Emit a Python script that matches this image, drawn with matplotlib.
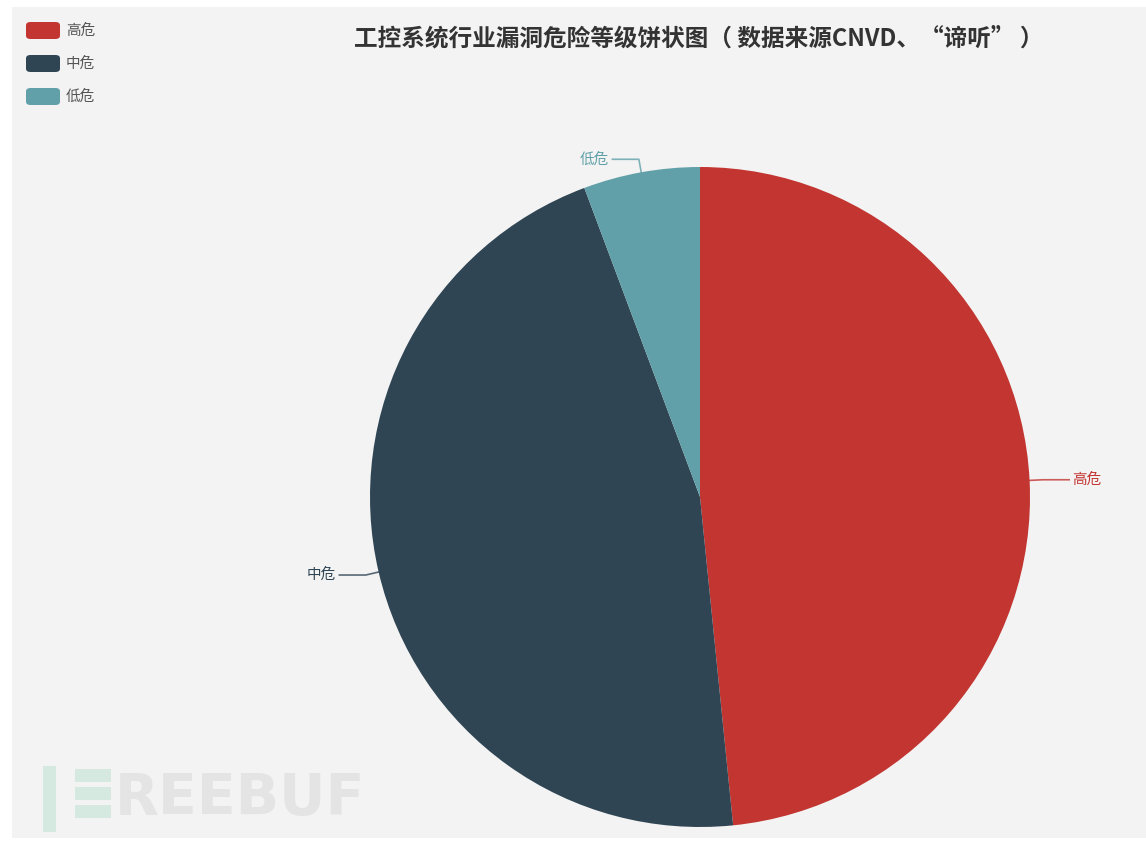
import numpy as np
import matplotlib.pyplot as plt
from matplotlib.patches import FancyBboxPatch, Rectangle

plt.rcParams['font.family'] = ['Noto Sans CJK SC', 'DejaVu Sans']

# vulnerability severity shares (percent)
levels = ['高危', '中危', '低危']
shares = [48.4, 45.9, 5.7]
colors = ['#c23531', '#2f4554', '#61a0a8']
title = '工控系统行业漏洞危险等级饼状图（ 数据来源CNVD、“谛听” ）'

W, H = 1146, 843
fig = plt.figure(figsize=(W / 100, H / 100), dpi=100, facecolor='white')

# grey panel behind everything
fig.patches.append(Rectangle((12 / W, 5 / H), 1 - 12 / W, 1 - 12 / H,
                             transform=fig.transFigure, facecolor='#f3f3f3',
                             edgecolor='none', zorder=-10))

# pie centred at (700, 497) px with radius 330 px
cx, cy, r = 700, 497, 330
ax = fig.add_axes([(cx - r) / W, (H - cy - r) / H, 2 * r / W, 2 * r / H])
ax.set_zorder(2)

wedges, _ = ax.pie(shares, colors=colors, startangle=90, counterclock=False,
                   radius=1.0, wedgeprops=dict(linewidth=0))
# pie() widens the limits to 1.25; pull them back so the disc fills the box
ax.set_xlim(-1, 1)
ax.set_ylim(-1, 1)
ax.set_aspect('equal')
ax.axis('off')

# outside labels with two-segment leader lines
for w, name, col in zip(wedges, levels, colors):
    ang = np.deg2rad((w.theta1 + w.theta2) / 2)
    x0, y0 = np.cos(ang), np.sin(ang)
    x1, y1 = 1.04 * x0, 1.04 * y0
    side = 1 if x0 >= 0 else -1
    x2 = x1 + side * 0.08
    ax.plot([x0, x1, x2], [y0, y1, y1], color=col, lw=1.2, alpha=0.8,
            clip_on=False)
    ax.text(x2 + side * 0.01, y1, name, color=col, fontsize=10.5,
            ha='left' if side > 0 else 'right', va='center', clip_on=False)

fig.text(699 / W, 1 - 38 / H, title, ha='center', va='center',
         fontsize=17, fontweight='bold', color='#333333')

# legend
for i, (name, col) in enumerate(zip(levels, colors)):
    ytop = 22 + i * 33
    fig.patches.append(FancyBboxPatch((26 / W, 1 - (ytop + 17) / H),
                                      34 / W, 17 / H,
                                      boxstyle='round,pad=0,rounding_size=0.004',
                                      transform=fig.transFigure,
                                      facecolor=col, edgecolor='none'))
    fig.text(66 / W, 1 - (ytop + 9) / H, name, fontsize=10.5, color='#555555',
             va='center', ha='left')

# faint site watermark
fig.patches.append(Rectangle((43 / W, 1 - 832 / H), 13 / W, 66 / H,
                             transform=fig.transFigure, facecolor='#d6e9e1',
                             edgecolor='none'))
for k in range(3):
    fig.patches.append(Rectangle((75 / W, 1 - (782 + k * 18) / H), 36 / W, 13 / H,
                                 transform=fig.transFigure, facecolor='#d6e9e1',
                                 edgecolor='none'))
fig.text(115 / W, 1 - 800 / H, 'REEBUF', fontsize=41, fontweight='bold',
         color='#e4e4e4', va='center', ha='left', family='DejaVu Sans')

fig.savefig('out.png', dpi=100, facecolor='white')
